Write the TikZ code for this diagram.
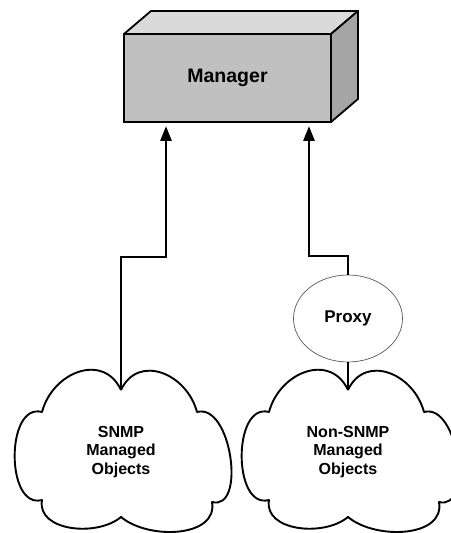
\documentclass[tikz,border=0pt]{standalone}
\usepackage{fontspec}
\setmainfont{Liberation Sans}
\usetikzlibrary{arrows.meta,shapes.geometric}
\definecolor{frontgray}{RGB}{192,192,192}
\definecolor{topgray}{RGB}{218,218,218}
\definecolor{sidegray}{RGB}{165,165,165}
\begin{document}
\begin{tikzpicture}[x=1pt,y=1pt,
    box node/.style={rectangle,draw,line width=1.8pt,fill=frontgray,outer sep=0pt,inner sep=0pt,
                     minimum width=207pt,minimum height=88pt,font=\fontsize{19.5}{22}\selectfont\bfseries},
    box face/.style={draw,line width=1.8pt,line join=round},
    proxy node/.style={ellipse,draw=gray!70!black,line width=0.7pt,minimum width=109pt,minimum height=87pt,
                       inner sep=0pt,font=\fontsize{17}{20}\selectfont\bfseries},
    cloud text/.style={align=center,font=\fontsize{16}{18.5}\selectfont\bfseries},
    cloud line/.style={line width=1.9pt,line join=round},
    link/.style={line width=2.8pt,-{Triangle[length=15pt,width=11pt]},shorten >=4pt},
    plain link/.style={line width=2.4pt}]
  \useasboundingbox (0,0) rectangle (450,533);

  \node[box node] (mgr) at (227.5,455) {Manager};
  \path[box face,fill=topgray] (mgr.north west) -- ++(27,23) -- ++(207,0) -- (mgr.north east) -- cycle;
  \path[box face,fill=sidegray] (mgr.north east) -- ++(27,23) -- ++(0,-88) -- (mgr.south east) -- cycle;

  \node[proxy node] (proxy) at (348,214.5) {Proxy};
  \node[cloud text] (snmp) at (121,81) {SNMP\\Managed\\Objects};
  \node[cloud text] (nonsnmp) at (348,81) {Non-SNMP\\Managed\\Objects};

  % cloud outlines round the two text nodes
  \foreach \c in {snmp,nonsnmp}
    \draw[cloud line,shift={(\c.center)}] (0,62) coordinate (\c-top)
      to[out=65,in=105,looseness=1.3] (76,40)
      to[out=15,in=-15] (91,-50)
      to[out=-80,in=-40] (0,-65)
      to[out=-140,in=-100] (-79,-48)
      to[out=195,in=165,looseness=1.1] (-79,40)
      to[out=75,in=115,looseness=1.3] (0,62);

  \coordinate (lbend) at (166,276);
  \coordinate (rbend) at (309,277);
  \draw[link] (snmp-top) |- (lbend) -- (lbend |- mgr.south);
  \draw[link] (proxy.north) |- (rbend) -- (rbend |- mgr.south);
  \path (proxy) edge[plain link] (nonsnmp-top);
\end{tikzpicture}
\end{document}
